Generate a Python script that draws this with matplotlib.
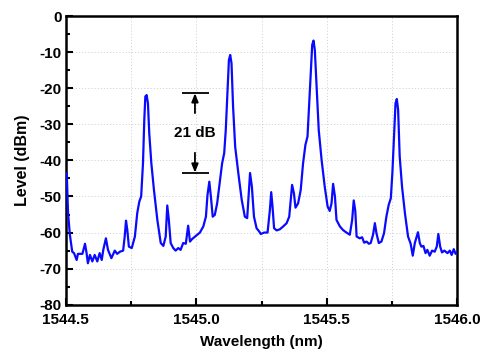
import matplotlib
matplotlib.use('Agg')
import matplotlib.pyplot as plt
from matplotlib.ticker import MultipleLocator, FormatStrFormatter

plt.rcParams['font.family'] = ['Liberation Sans', 'DejaVu Sans']
plt.rcParams['axes.unicode_minus'] = False

# spectrum
wavelength = [
    1544.500, 1544.504, 1544.509, 1544.516, 1544.525, 1544.532, 1544.542, 1544.547, 1544.564,
    1544.574, 1544.580, 1544.585, 1544.593, 1544.602, 1544.611, 1544.621, 1544.630,
    1544.638, 1544.644, 1544.654, 1544.662, 1544.675, 1544.688, 1544.697, 1544.708,
    1544.720, 1544.726, 1544.731, 1544.736, 1544.742, 1544.753, 1544.765, 1544.774,
    1544.782, 1544.789, 1544.796, 1544.801, 1544.805, 1544.810, 1544.815, 1544.820,
    1544.828, 1544.838, 1544.851, 1544.864, 1544.874, 1544.883, 1544.889, 1544.895,
    1544.902, 1544.912, 1544.921, 1544.931, 1544.940, 1544.950, 1544.960, 1544.969,
    1544.976, 1544.984, 1544.999, 1545.014, 1545.027, 1545.037, 1545.043, 1545.050,
    1545.056, 1545.063, 1545.071, 1545.080, 1545.091, 1545.099, 1545.107, 1545.113,
    1545.120, 1545.125, 1545.130, 1545.135, 1545.141, 1545.149, 1545.161, 1545.174,
    1545.186, 1545.195, 1545.202, 1545.206, 1545.213, 1545.221, 1545.231, 1545.241,
    1545.247, 1545.260, 1545.273, 1545.282, 1545.287, 1545.292, 1545.298, 1545.308,
    1545.320, 1545.333, 1545.346, 1545.356, 1545.362, 1545.367, 1545.374, 1545.380,
    1545.390, 1545.400, 1545.409, 1545.418, 1545.426, 1545.432, 1545.439, 1545.444,
    1545.449, 1545.454, 1545.461, 1545.469, 1545.480, 1545.492, 1545.503, 1545.511,
    1545.518, 1545.524, 1545.531, 1545.537, 1545.550, 1545.562, 1545.575, 1545.588,
    1545.597, 1545.603, 1545.609, 1545.614, 1545.626, 1545.635, 1545.643, 1545.652,
    1545.661, 1545.668, 1545.677, 1545.684, 1545.690, 1545.699, 1545.709, 1545.719,
    1545.728, 1545.737, 1545.745, 1545.751, 1545.758, 1545.763, 1545.768, 1545.773,
    1545.779, 1545.788, 1545.799, 1545.811, 1545.821, 1545.829, 1545.837, 1545.844,
    1545.849, 1545.856, 1545.862, 1545.870, 1545.878, 1545.885, 1545.894, 1545.903,
    1545.913, 1545.921, 1545.927, 1545.934, 1545.941, 1545.950, 1545.962, 1545.971,
    1545.978, 1545.986, 1545.993, 1546.000,
]
level = [
    -45.0, -43.5, -54.5, -60.6, -65.3, -65.7, -67.6, -65.9, -65.9,
    -63.1, -65.7, -68.5, -66.2, -68.0, -66.2, -68.0, -65.7,
    -67.6, -64.8, -61.6, -64.8, -67.1, -65.0, -65.9, -65.3,
    -65.0, -61.1, -56.7, -59.3, -63.9, -64.3, -61.1, -54.6,
    -51.4, -50.0, -40.8, -28.8, -22.3, -21.9, -24.2, -32.5,
    -40.8, -48.2, -56.5, -62.9, -63.7, -61.1, -52.5, -56.5,
    -62.9, -64.3, -65.0, -64.3, -64.8, -62.9, -63.1, -58.1,
    -62.5, -61.8, -60.9, -60.0, -58.3, -55.6, -49.6, -45.9,
    -50.0, -55.6, -55.1, -51.9, -45.4, -40.8, -38.0, -31.6,
    -20.5, -12.2, -10.8, -13.1, -25.1, -36.2, -43.5, -50.9,
    -55.6, -56.0, -48.2, -43.5, -47.3, -55.6, -58.8, -59.7,
    -60.4, -60.0, -60.0, -53.7, -48.8, -52.8, -58.8, -59.4,
    -59.1, -58.3, -57.4, -55.6, -50.9, -46.8, -49.1, -53.1,
    -51.9, -48.2, -40.8, -35.7, -33.4, -25.1, -14.9, -8.0,
    -6.8, -9.4, -19.6, -31.6, -39.9, -47.3, -52.8, -54.0,
    -51.9, -46.5, -50.0, -56.5, -58.3, -59.3, -60.0, -60.6,
    -56.5, -51.1, -54.0, -61.1, -61.6, -61.3, -62.8, -62.5,
    -63.1, -62.9, -60.6, -57.4, -60.2, -62.9, -62.5, -60.2,
    -55.6, -52.3, -50.5, -43.5, -32.5, -24.2, -23.0, -26.0,
    -38.9, -47.3, -54.6, -61.1, -63.1, -66.4, -62.9, -61.1,
    -59.9, -62.9, -63.9, -63.7, -65.7, -64.8, -66.4, -65.0,
    -65.3, -63.9, -60.4, -63.9, -65.5, -65.0, -65.7, -65.0,
    -66.2, -64.6, -65.9, -65.3,
]

# 21 dB marker
mark_x = 1544.995
mark_left, mark_right = 1544.944, 1545.050
mark_top = -21.4
mark_bottom = -43.4
mark_text = '21 dB'

fig = plt.figure(figsize=(4.83, 3.56), dpi=100)
ax = fig.add_axes([0.136, 0.144, 0.811, 0.811])

ax.plot(wavelength, level, color='#0a0aff', lw=1.6, zorder=3)

ax.set_xlim(1544.5, 1546.0)
ax.set_ylim(-80, 0)
ax.xaxis.set_major_locator(MultipleLocator(0.5))
ax.xaxis.set_minor_locator(MultipleLocator(0.25))
ax.yaxis.set_major_locator(MultipleLocator(10))
ax.yaxis.set_minor_locator(MultipleLocator(5))
ax.xaxis.set_major_formatter(FormatStrFormatter('%.1f'))

grid_style = dict(color='#d4d4d4', ls=(0, (1.2, 2)), lw=0.7)
ax.grid(True, which='major', axis='y', **grid_style)
ax.grid(True, which='both', axis='x', **grid_style)

ax.tick_params(which='both', direction='in', width=1.5, labelsize=11)
ax.tick_params(which='major', length=5)
ax.tick_params(which='minor', length=3)
ax.tick_params(axis='x', pad=6)
ax.tick_params(axis='y', pad=3)
for lab in ax.get_xticklabels() + ax.get_yticklabels():
    lab.set_fontweight('bold')
for sp in ax.spines.values():
    sp.set_linewidth(1.8)

ax.set_xlabel('Wavelength (nm)', fontsize=11, fontweight='bold', labelpad=6)
ax.set_ylabel('Level (dBm)', fontsize=11.5, fontweight='bold', labelpad=7)

# marker lines and arrows
ax.hlines([mark_top, mark_bottom], mark_left, mark_right, color='black', lw=1.3, zorder=4)
arrow = dict(arrowstyle='-|>,head_length=0.5,head_width=0.2', color='black', lw=1.3,
             shrinkA=0, shrinkB=0)
ax.annotate('', xy=(mark_x, mark_top), xytext=(mark_x, mark_top - 5.5), arrowprops=arrow)
ax.annotate('', xy=(mark_x, mark_bottom), xytext=(mark_x, mark_bottom + 5.5), arrowprops=arrow)
ax.text(mark_x, -32.5, mark_text, ha='center', va='center', fontsize=11, fontweight='bold')

fig.savefig('out.png', dpi=100)
